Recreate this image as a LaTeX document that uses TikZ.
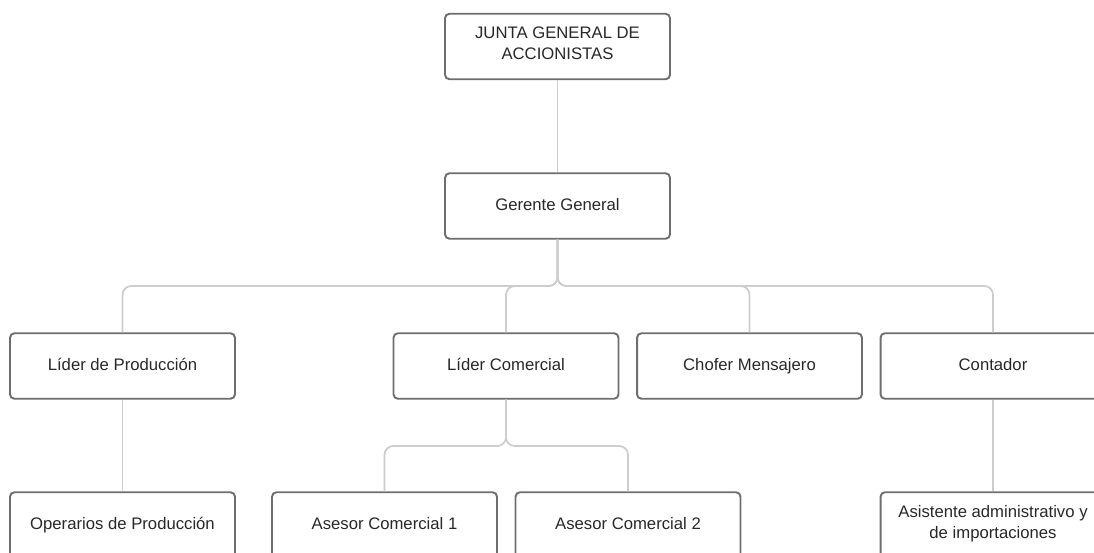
\documentclass[tikz,border=0pt]{standalone}
\usepackage{xcolor}
\usepackage{fontspec}
\setmainfont{Liberation Sans}
\usepackage{tikz}
\usetikzlibrary{positioning, calc}
\definecolor{boxgray}{RGB}{110,110,110}
\definecolor{linegray}{RGB}{205,205,205}
\definecolor{txtgray}{RGB}{40,40,40}

\begin{document}
\begin{tikzpicture}[x=0.02cm, y=-0.02cm,
  box/.style={draw=boxgray, fill=white, rounded corners=2.5pt,
    line width=1.1pt, minimum width=4.5cm, minimum height=1.31cm,
    inner sep=0pt, text=txtgray, font=\fontsize{9.5}{12.3}\selectfont, align=center,
    execute at begin node=\strut, execute at end node=\strut},
  conn/.style={draw=linegray, line width=1pt, rounded corners=5pt}
]
\useasboundingbox (0,0) rectangle (1094,552);
\clip (0,0) rectangle (1094,552);
% Junction points of the connectors
\coordinate (bus)    at (557.5,286);
\coordinate (subbus) at (506,446);
\node[box] (junta) at (557.5,46.5) {JUNTA GENERAL DE\\ACCIONISTAS};
\node[box] (gg)    at (557.5,206)  {Gerente General};
\node[box] (lp)    at (122.5,366)  {Líder de Producción};
\node[box] (lc)    at (506,366)    {Líder Comercial};
\node[box] (cm)    at (749.5,366)  {Chofer Mensajero};
\node[box] (ct)    at (993,366)    {Contador};
\node[box] (op)    at (122.5,525)  {Operarios de Producción};
\node[box] (ac1)   at (384.5,525)  {Asesor Comercial 1};
\node[box] (ac2)   at (628,525)    {Asesor Comercial 2};
\node[box] (asis)  at (993,525)    {Asistente administrativo y\\de importaciones};
% Lines between levels
\draw[conn] (junta.south) -- (gg.north);
\draw[conn] (gg.south) -- (bus) -| (lp.north);
\draw[conn] (gg.south) -- (bus) -| (lc.north);
\draw[conn] (gg.south) -- (bus) -| (cm.north);
\draw[conn] (gg.south) -- (bus) -| (ct.north);
\draw[conn] (lp.south) -- (op.north);
\draw[conn] (lc.south) -- (subbus) -| (ac1.north);
\draw[conn] (lc.south) -- (subbus) -| (ac2.north);
\draw[conn] (ct.south) -- (asis.north);
\end{tikzpicture}
\end{document}
